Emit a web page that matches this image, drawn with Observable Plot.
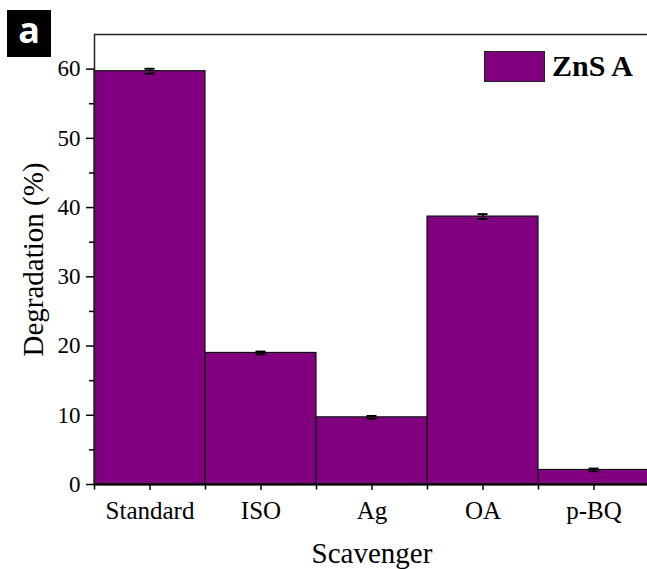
<!DOCTYPE html>
<html>
<head>
<meta charset="utf-8">
<script src="https://cdn.jsdelivr.net/npm/d3@7"></script>
<script src="https://cdn.jsdelivr.net/npm/@observablehq/plot@0.6"></script>
<style>
  html, body { margin: 0; padding: 0; background: white; overflow: hidden; }
  #wrap { position: relative; width: 647px; height: 569px; overflow: hidden; }
  #wrap svg { max-width: none !important; }
  #wrap svg text { font-family: "Liberation Serif", "Times New Roman", serif !important; }
  #panel { position: absolute; left: 7px; top: 10px; width: 44px; height: 47px; background: black;
           color: white; font: bold 36px "Open Sans", "DejaVu Sans", sans-serif; line-height: 40px; text-align: center; }
  #legend { position: absolute; left: 484px; top: 49px; display: flex; align-items: center; }
  #legend .sw { width: 61px; height: 31px; background: #800080; border: 1.2px solid #222; box-sizing: border-box; }
  #legend .lb { margin-left: 7px; font: bold 30px "Liberation Serif", "Times New Roman", serif; color: black; }
</style>
</head>
<body>
<div id="wrap">
  <div id="chart"></div>
  <div id="panel">a</div>
  <div id="legend"><div class="sw"></div><div class="lb">ZnS A</div></div>
</div>
<script>
const categories = ["Standard", "ISO", "Ag", "OA", "p-BQ"];
const degradation = [59.7, 19.0, 9.7, 38.7, 2.1];
const errors = [0.35, 0.2, 0.2, 0.35, 0.2];
const majorTicks = [0, 10, 20, 30, 40, 50, 60];
const minorTicks = [5, 15, 25, 35, 45, 55];

const data = categories.map((c, i) => ({cat: c, val: degradation[i], err: errors[i]}));
const W = 649, ML = 94, MR = 0;
const bw = (W - ML - MR) / categories.length;

const chart = Plot.plot({
  width: W,
  height: 569,
  marginLeft: ML,
  marginRight: MR,
  marginTop: 34,
  marginBottom: 85,
  style: {fontFamily: "Liberation Serif", color: "black", background: "white", overflow: "visible"},
  x: {domain: categories, padding: 0, axis: null},
  y: {domain: [0, 65], axis: null},
  marks: [
    Plot.barY(data, {x: "cat", y: "val", fill: "#800080", stroke: "#111", strokeWidth: 1.2}),
    Plot.ruleX(data, {x: "cat", y1: d => d.val - d.err, y2: d => d.val + d.err, stroke: "black", strokeWidth: 1.5}),
    Plot.tickY(data, {x: "cat", y: d => d.val + d.err, insetLeft: bw / 2 - 5, insetRight: bw / 2 - 5, stroke: "black", strokeWidth: 2}),
    Plot.tickY(data, {x: "cat", y: d => d.val - d.err, insetLeft: bw / 2 - 5, insetRight: bw / 2 - 5, stroke: "black", strokeWidth: 2}),
    Plot.frame({stroke: "#222", strokeWidth: 1.5}),
    Plot.ruleY([0], {stroke: "black", strokeWidth: 2}),
    Plot.axisY({ticks: majorTicks, tickSize: 8, tickPadding: 6, fontSize: 23, strokeWidth: 1.5,
      label: "Degradation (%)", labelAnchor: "center", labelOffset: 72, labelArrow: "none"}),
    Plot.axisY({ticks: minorTicks, tickSize: 5, strokeWidth: 1.5, tickFormat: () => "", label: null}),
    Plot.axisX({tickSize: 6, tickPadding: 11, fontSize: 25, strokeWidth: 1.5,
      label: "Scavenger", labelAnchor: "center", labelOffset: 78, labelArrow: "none"}),
    Plot.ruleX(categories, {x: d => d, y1: 0, y2: -0.8, dx: -bw / 2, stroke: "black", strokeWidth: 1.5})
  ]
});
chart.querySelectorAll("text").forEach(t => t.setAttribute("font-family", "Liberation Serif"));
chart.querySelectorAll("g[aria-label='y-axis label'] text, g[aria-label='x-axis label'] text").forEach(t => t.setAttribute("font-size", "29"));
document.getElementById("chart").appendChild(chart);
</script>
</body>
</html>
